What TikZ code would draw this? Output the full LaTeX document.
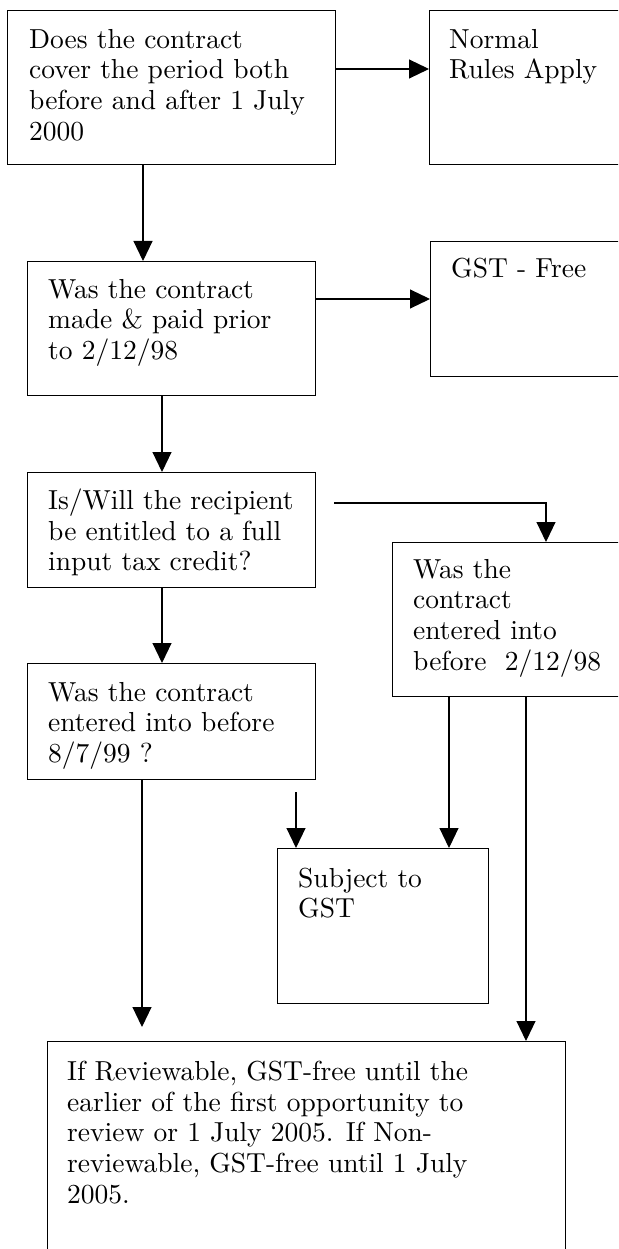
\documentclass[tikz,border=0pt]{standalone}
\usepackage{fontspec}
\setmainfont{lmroman10-regular.otf}[BoldFont=lmroman10-bold.otf]
\usetikzlibrary{arrows.meta}
\tikzset{
  box/.style={draw, line width=1.1pt, anchor=north west, inner sep=0pt},
  txt/.style={anchor=north west, inner sep=0pt, align=left, font=\fontsize{27.5}{30.8}\selectfont},
  arr/.style={line width=1.1pt, -{Triangle[length=20pt,width=19pt]}}
}
\begin{document}
\begin{tikzpicture}[x=1pt,y=-1pt]
\useasboundingbox (0,0) rectangle (618,1249);
\clip (0,0) rectangle (618,1249);
% boxes
\node[box, minimum width=328pt, minimum height=154pt] (A) at (7,10) {};
\node[box, minimum width=220pt, minimum height=154pt] (N) at (429,10) {};
\node[box, minimum width=288pt, minimum height=134pt] (B) at (27,261) {};
\node[box, minimum width=220pt, minimum height=135pt] (GF) at (430,241) {};
\node[box, minimum width=288pt, minimum height=115pt] (C) at (27,472) {};
\node[box, minimum width=260pt, minimum height=154pt] (D) at (392,542) {};
\node[box, minimum width=288pt, minimum height=116pt] (E) at (27,663) {};
\node[box, minimum width=211pt, minimum height=155pt] (F) at (277,848) {};
\node[box, minimum width=518pt, minimum height=240pt] (G) at (47,1041) {};
% texts
\node[txt] (At) at (29,28.9) {Does the contract\\cover the period both\\before and after 1 July\\2000};
\node[txt] (Nt) at (449,28.9) {Normal\\Rules Apply};
\node[txt] (Bt) at (48,278.9) {Was the contract\\made \& paid prior\\to 2/12/98};
\node[txt] (GFt) at (451,257.6) {GST - Free};
\node[txt] (Ct) at (48,488.4) {Is/Will the recipient\\be entitled to a full\\input tax credit?};
\node[txt] (Dt) at (413,558.9) {Was the\\contract\\entered into\\before~ 2/12/98};
\node[txt] (Et) at (48,681.9) {Was the contract\\entered into before\\8/7/99 ?};
\node[txt] (Ft) at (298,867.6) {Subject to\\GST};
\node[txt] (Gt) at (67,1060.6) {If Reviewable, GST-free until the\\earlier of the first opportunity to\\review or 1 July 2005. If Non-\\reviewable, GST-free until 1 July\\2005.};
% helper coordinates
\coordinate (yAN) at (0,69);
\coordinate (xAB) at (143,0);
\coordinate (yBG) at (0,299);
\coordinate (xBC) at (162,0);
\coordinate (cdStart) at (334,503);
\coordinate (xCD) at (546,0);
\coordinate (fStart) at (296,792);
\coordinate (xDF) at (449,0);
\coordinate (xEG) at (142,0);
\coordinate (eEnd) at (142,1027);
\coordinate (xDG) at (526,0);
% connectors
\draw[arr] (A.east |- yAN) -- (N.west |- yAN);
\draw[arr] (A.south -| xAB) -- (B.north -| xAB);
\draw[arr] (B.east |- yBG) -- (GF.west |- yBG);
\draw[arr] (B.south -| xBC) -- (C.north -| xBC);
\draw[arr] (cdStart) -| (D.north -| xCD);
\draw[arr] (C.south -| xBC) -- (E.north -| xBC);
\draw[arr] (fStart) -- (F.north -| fStart);
\draw[arr] (D.south -| xDF) -- (F.north -| xDF);
\draw[arr] (E.south -| xEG) -- (eEnd);
\draw[arr] (D.south -| xDG) -- (G.north -| xDG);
\end{tikzpicture}
\end{document}
